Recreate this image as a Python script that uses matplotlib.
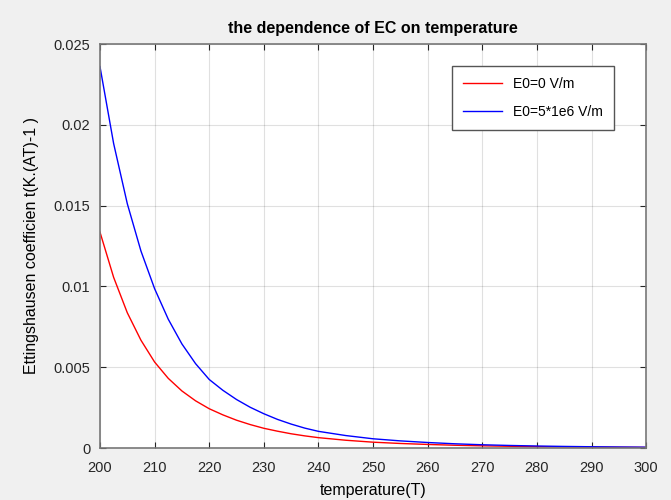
import numpy as np
import matplotlib.pyplot as plt

plt.rcParams['font.family'] = ['Liberation Sans', 'DejaVu Sans']

# temperature points (K) and values
temp = [200, 202.5, 205, 207.5, 210, 212.5, 215, 217.5, 220, 222.5, 225, 227.5,
        230, 232.5, 235, 237.5, 240, 245, 250, 255, 260, 265, 270, 275, 280,
        285, 290, 295, 300]

ec_e0 = [0.01336, 0.01056, 0.00837, 0.00667, 0.00532, 0.00431, 0.00353, 0.00292,
         0.00243, 0.00205, 0.00172, 0.00145, 0.00122, 0.00104, 0.00088, 0.00075,
         0.00064, 0.00048, 0.00036, 0.00028, 0.00022, 0.00017, 0.000135,
         0.000107, 0.000085, 0.000068, 0.000055, 0.000045, 0.000037]

ec_e1 = [0.0236, 0.01884, 0.01512, 0.01219, 0.00986, 0.00797, 0.00644, 0.00522,
         0.00424, 0.00357, 0.0030, 0.00252, 0.00212, 0.00177, 0.00148, 0.00123,
         0.00103, 0.00077, 0.00057, 0.00044, 0.00034, 0.00026, 0.0002,
         0.000157, 0.000123, 0.000097, 0.000077, 0.000061, 0.000049]

fig = plt.figure(figsize=(6.71, 5.0), dpi=100, facecolor='#f0f0f0')
ax = fig.add_axes([0.149, 0.104, 0.814, 0.808])
ax.set_facecolor('white')

ax.plot(temp, ec_e0, color='#ff0000', lw=1.0, label='E0=0 V/m')
ax.plot(temp, ec_e1, color='#0000ff', lw=1.0, label='E0=5*1e6 V/m')

ax.set_xlim(200, 300)
ax.set_ylim(0, 0.025)
ax.set_xticks(np.arange(200, 301, 10))
ax.set_yticks([0, 0.005, 0.01, 0.015, 0.02, 0.025])
ax.set_yticklabels(['0', '0.005', '0.01', '0.015', '0.02', '0.025'])
ax.tick_params(direction='in', length=4, width=0.8, colors='#262626',
               labelsize=10.5, top=True, right=True, labelcolor='#262626')
ax.tick_params(axis='x', pad=9)
ax.tick_params(axis='y', pad=7)
ax.grid(True, color='#000000', alpha=0.12, lw=0.8)
for s in ax.spines.values():
    s.set_color('#777777')
    s.set_linewidth(1.2)

ax.set_title('the dependence of EC on temperature', fontsize=11.5,
             fontweight='bold', pad=8)
ax.set_xlabel('temperature(T)', fontsize=11.5, labelpad=6)
ax.set_ylabel('Ettingshausen coefficien t(K.(AT)-1 )', fontsize=11.5, labelpad=10)

leg = ax.legend(loc='upper right', bbox_to_anchor=(0.954, 0.963), fontsize=10,
                fancybox=False, framealpha=1, edgecolor='#555555',
                handlelength=2.8, borderpad=0.8, labelspacing=1.0)
leg.get_frame().set_linewidth(1.0)

fig.savefig('out.png', dpi=100, facecolor=fig.get_facecolor())
